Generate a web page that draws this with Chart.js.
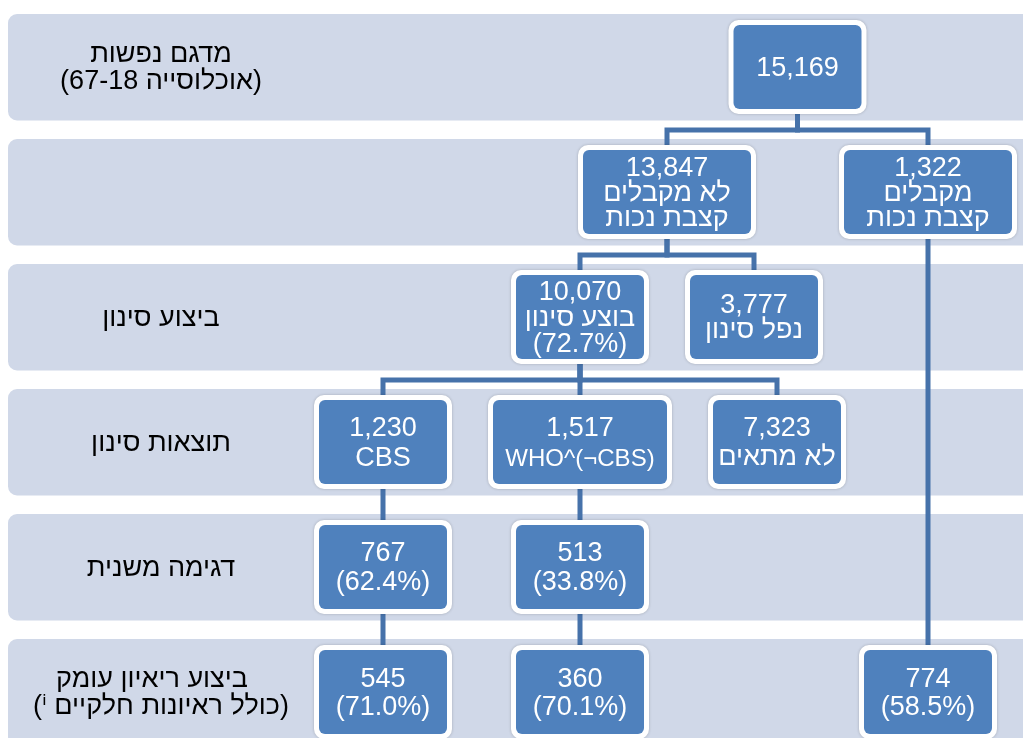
<!DOCTYPE html>
<html>
<head>
<meta charset="utf-8">
<script src="https://cdn.jsdelivr.net/npm/chart.js@4.4.1/dist/chart.umd.min.js"></script>
<style>
html,body{margin:0;padding:0;background:#ffffff;}
#wrap{width:1023px;height:738px;position:relative;}
</style>
</head>
<body>
<div id="wrap"><canvas id="c"></canvas></div>
<script>
// ---------- data ----------
const counts   = [15169, 13847, 1322, 10070, 3777, 1230, 1517, 7323, 767, 513, 545, 360, 774];
const percents = [null, null, null, 72.7, null, null, null, null, 62.4, 33.8, 71.0, 70.1, 58.5];
const captions = [
  [], ['לא מקבלים', 'קצבת נכות'], ['מקבלים', 'קצבת נכות'],
  ['בוצע סינון'], ['נפל סינון'],
  ['CBS'], ['WHO^(¬CBS)'], ['לא מתאים'],
  [], [], [], [], []
];
const rowLabels = [
  ['מדגם נפשות', '(אוכלוסייה 67-18)'],
  [],
  ['ביצוע סינון'],
  ['תוצאות סינון'],
  ['דגימה משנית'],
  ['ביצוע ריאיון עומק', '(כולל ראיונות חלקיים \u2071)']
];
// parent -> children
const edges = [[0, [1, 2]], [1, [3, 4]], [2, [12]], [3, [5, 6, 7]], [5, [8]], [8, [10]], [6, [9]], [9, [11]]];

// ---------- layout (positions / sizes / styles) ----------
const nodeRow = [0, 1, 1, 2, 2, 3, 3, 3, 4, 4, 5, 5, 5];
const nodeX   = [797.5, 667, 928, 580, 754, 383, 580, 777, 383, 580, 383, 580, 928];
const nodeW   = [128, 168, 168, 128, 128, 128, 174, 128, 128, 128, 128, 128, 128];
const nodeLH  = [27, 25, 25, 26, 25, 30, 30, 29, 29, 29, 28, 28, 28];
const captionSize = [27, 27, 27, 27, 27, 27, 24, 27, 27, 27, 27, 27, 27];
const labelDx = [[0, 0], [], [0], [0], [0], [-9, 0]];
const ROW_PITCH = 125, BAND_TOP = 14, BAND_H = 106.5, BOX_TOP = 25, BOX_H = 84;
const BAND_LEFT = 8, BAND_RIGHT = 1045, LABEL_X = 161;
const FONT = '"Liberation Sans", Arial, "DejaVu Sans", sans-serif';
const C_BAND = '#D0D8E8', C_BOX = '#4F81BD', C_LINE = '#4672AA';

const rowMid = r => BOX_TOP + ROW_PITCH * r + BOX_H / 2;
const bandTop = r => BAND_TOP + ROW_PITCH * r;

// ---------- datasets ----------
const nodeData = nodeX.map((v, i) => ({x: v, y: rowMid(nodeRow[i])}));
const edgeSets = [];
edges.forEach(([p, kids]) => {
  kids.forEach(k => {
    const elbow = bandTop(nodeRow[p] + 1) - 9;
    edgeSets.push({
      type: 'scatter',
      data: [
        {x: nodeX[p], y: rowMid(nodeRow[p])},
        {x: nodeX[p], y: elbow},
        {x: nodeX[k], y: elbow},
        {x: nodeX[k], y: rowMid(nodeRow[k])}
      ],
      showLine: true, borderColor: C_LINE, borderWidth: 5, pointRadius: 0,
      pointHoverRadius: 0, fill: false, tension: 0,
      borderJoinStyle: 'miter', borderCapStyle: 'butt'
    });
  });
});

const isHeb = s => /[\u0590-\u05FF]/.test(s);

const flowPlugin = {
  id: 'flow',
  beforeDatasetsDraw(chart) {
    const {ctx, scales: {x, y}} = chart;
    ctx.save();
    ctx.fillStyle = C_BAND;
    for (let r = 0; r < rowLabels.length; r++) {
      const x0 = x.getPixelForValue(BAND_LEFT), x1 = x.getPixelForValue(BAND_RIGHT);
      const y0 = y.getPixelForValue(bandTop(r)), y1 = y.getPixelForValue(bandTop(r) + BAND_H);
      ctx.beginPath();
      ctx.roundRect(x0, y0, x1 - x0, y1 - y0, 9);
      ctx.fill();
    }
    // row labels
    ctx.fillStyle = '#000000';
    ctx.textAlign = 'center';
    ctx.textBaseline = 'alphabetic';
    ctx.font = '27px ' + FONT;
    rowLabels.forEach((lines, r) => {
      const cy = y.getPixelForValue(bandTop(r) + 53);
      const n = lines.length;
      lines.forEach((t, k) => {
        ctx.direction = isHeb(t) ? 'rtl' : 'ltr';
        const by = n === 1 ? cy + 9 : cy + (k - (n - 1) / 2) * 27 + 8;
        ctx.fillText(t, x.getPixelForValue(LABEL_X + labelDx[r][k]), by);
      });
    });
    ctx.restore();
  },
  afterDatasetsDraw(chart) {
    const {ctx, scales: {x, y}} = chart;
    const meta = chart.getDatasetMeta(0);
    ctx.save();
    meta.data.forEach((pt, i) => {
      const cx = pt.x, cy = pt.y;
      const hw = (x.getPixelForValue(nodeX[i] + nodeW[i] / 2) - x.getPixelForValue(nodeX[i] - nodeW[i] / 2)) / 2;
      const hh = Math.abs(y.getPixelForValue(rowMid(nodeRow[i]) + BOX_H / 2) - y.getPixelForValue(rowMid(nodeRow[i]) - BOX_H / 2)) / 2;
      // white frame with faint shadow
      ctx.save();
      ctx.shadowColor = 'rgba(0,0,0,0.22)';
      ctx.shadowBlur = 3;
      ctx.fillStyle = '#ffffff';
      ctx.beginPath();
      ctx.roundRect(cx - hw - 5, cy - hh - 5, 2 * hw + 10, 2 * hh + 10, 10);
      ctx.fill();
      ctx.restore();
      ctx.fillStyle = C_BOX;
      ctx.beginPath();
      ctx.roundRect(cx - hw, cy - hh, 2 * hw, 2 * hh, 6);
      ctx.fill();
      // text
      const lines = [{t: counts[i].toLocaleString('en-US'), s: 27}];
      captions[i].forEach(c => lines.push({t: c, s: captionSize[i]}));
      if (percents[i] !== null) lines.push({t: '(' + percents[i].toFixed(1) + '%)', s: 27});
      const n = lines.length, L = nodeLH[i];
      ctx.fillStyle = '#ffffff';
      ctx.textAlign = 'center';
      ctx.textBaseline = 'alphabetic';
      lines.forEach((ln, k) => {
        ctx.font = ln.s + 'px ' + FONT;
        ctx.direction = isHeb(ln.t) ? 'rtl' : 'ltr';
        ctx.fillText(ln.t, cx, cy + (k - (n - 1) / 2) * L + 8.5);
      });
    });
    ctx.restore();
  }
};

new Chart(document.getElementById('c'), {
  type: 'scatter',
  data: {
    datasets: [
      {data: nodeData, pointRadius: 0, pointHoverRadius: 0, showLine: false}
    ].concat(edgeSets)
  },
  options: {
    responsive: true,
    maintainAspectRatio: false,
    animation: false,
    events: [],
    layout: {padding: 0},
    plugins: {legend: {display: false}, tooltip: {enabled: false}},
    scales: {
      x: {type: 'linear', min: 0, max: 1023, display: false},
      y: {type: 'linear', min: 0, max: 738, reverse: true, display: false}
    }
  },
  plugins: [flowPlugin]
});
</script>
</body>
</html>
